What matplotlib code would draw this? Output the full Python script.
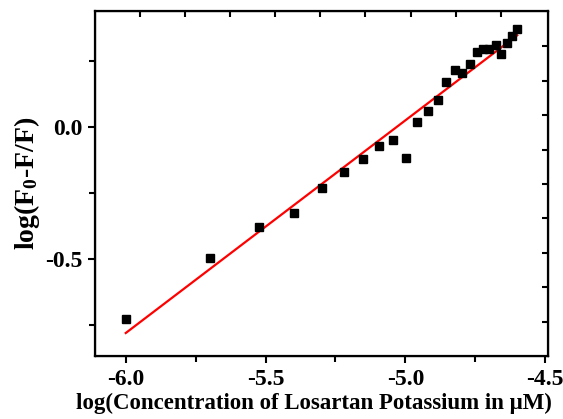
import matplotlib.pyplot as plt
import numpy as np
from matplotlib.ticker import MultipleLocator

plt.rcParams["font.family"] = ["Liberation Serif", "DejaVu Serif"]
plt.rcParams["font.weight"] = "bold"
plt.rcParams["mathtext.fontset"] = "custom"
plt.rcParams["mathtext.rm"] = "Liberation Serif:bold"
plt.rcParams["mathtext.it"] = "Liberation Serif:bold"
plt.rcParams["mathtext.bf"] = "Liberation Serif:bold"

# log concentration (M) vs log((F0-F)/F)
log_conc = [-6.000, -5.698, -5.522, -5.397, -5.300, -5.221, -5.153, -5.095,
            -5.045, -4.998, -4.959, -4.919, -4.883, -4.855, -4.822, -4.797,
            -4.768, -4.743, -4.722, -4.700, -4.675, -4.657, -4.636, -4.618,
            -4.600]
log_quench = [-0.727, -0.496, -0.379, -0.326, -0.231, -0.170, -0.121, -0.072,
              -0.049, -0.117, 0.019, 0.061, 0.102, 0.170, 0.216, 0.205,
              0.239, 0.284, 0.295, 0.295, 0.311, 0.276, 0.318, 0.345,
              0.371]

x = np.array(log_conc)
y = np.array(log_quench)
slope, intercept = np.polyfit(x, y, 1)
x_fit = np.array([x.min(), x.max()])

fig = plt.figure(figsize=(5.63, 4.19), dpi=100)
ax = fig.add_axes([95 / 563, 1 - 356 / 419, 453 / 563, 345 / 419])

ax.plot(x_fit, slope * x_fit + intercept, color="red", lw=1.6, zorder=2)
ax.plot(x, y, ls="none", marker="s", ms=5.5, color="black", zorder=3)

ax.set_xlim(-6.11, -4.49)
ax.set_ylim(-0.867, 0.44)
ax.xaxis.set_major_locator(MultipleLocator(0.5))
ax.xaxis.set_minor_locator(MultipleLocator(0.25))
ax.yaxis.set_major_locator(MultipleLocator(0.5))
ax.yaxis.set_minor_locator(MultipleLocator(0.25))
ax.xaxis.set_major_formatter(lambda v, p: f"{v:.1f}")
ax.yaxis.set_major_formatter(lambda v, p: f"{v:.1f}")
ax.tick_params(which="both", direction="out", width=1.5, labelsize=17,
               top=False, right=False)
ax.tick_params(which="major", length=5, pad=4)
ax.tick_params(which="minor", length=4)
for lbl in ax.get_xticklabels() + ax.get_yticklabels():
    lbl.set_fontweight("bold")

for s in ax.spines.values():
    s.set_linewidth(1.6)

# Unlabelled top and right scales
top = ax.twiny()
top.set_xlim(0, 10.05)
top.set_xticks(range(1, 10))
top.tick_params(direction="in", length=4, width=1.5, labeltop=False)
right = ax.twinx()
right.set_ylim(0, 10.03)
right.set_yticks(range(1, 10))
right.tick_params(direction="in", length=4, width=1.5, labelright=False)

ax.set_xlabel("log(Concentration of Losartan Potassium in \u03bcM)",
              fontsize=16.5, fontweight="bold")
ax.xaxis.set_label_coords(0.483, -0.107)
ax.set_ylabel("log(F$_0$-F/F)", fontsize=20, fontweight="bold")
ax.yaxis.set_label_coords(-0.118, 0.5)

fig.savefig("out.png", dpi=100)
